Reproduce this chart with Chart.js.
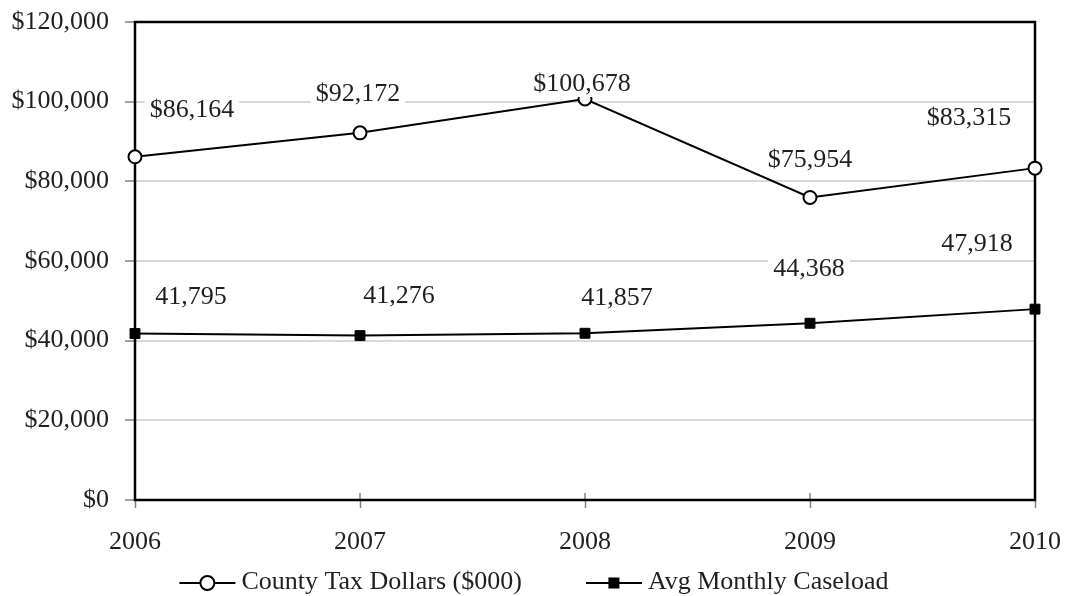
<!DOCTYPE html>
<html>
<head>
<meta charset="utf-8">
<script src="https://cdn.jsdelivr.net/npm/chart.js@4/dist/chart.umd.min.js"></script>
<style>
  body { margin: 0; background: #fff; }
  canvas { display: block; }
</style>
</head>
<body>
<canvas id="linechart" width="1068" height="596"></canvas>
<script>
const years = ['2006', '2007', '2008', '2009', '2010'];
const countyTax = [86164, 92172, 100678, 75954, 83315];
const caseload = [41795, 41276, 41857, 44368, 47918];
const taxLabels = ['$86,164', '$92,172', '$100,678', '$75,954', '$83,315'];
const caseloadLabels = ['41,795', '41,276', '41,857', '44,368', '47,918'];
const seriesNames = ['County Tax Dollars ($000)', 'Avg Monthly Caseload'];
const yMin = 0;
const yMax = 120000;
const yStep = 20000;

const FONT = '"Liberation Serif", "Times New Roman", serif';
const TEXT = '#1f1f1f';

// label offsets from each point, roughly where excel put them
const labelOffsets = [
    [[57, -48], [-2, -40], [-3, -16], [0, -38], [-66, -51]],
    [[56, -37], [39, -40], [32, -36], [-1, -55], [-58, -66]]
];

const frame = {
    id: 'frame',
    beforeDatasetsDraw(chart) {
        const { ctx, chartArea: a, scales } = chart;
        ctx.save();
        // small inside part of the x tick marks
        ctx.strokeStyle = '#808080';
        ctx.lineWidth = 1.5;
        years.forEach((y, i) => {
            const x = scales.x.getPixelForValue(i);
            ctx.beginPath();
            ctx.moveTo(x, a.bottom);
            ctx.lineTo(x, a.bottom - 7);
            ctx.stroke();
        });
        ctx.strokeStyle = '#000';
        ctx.lineWidth = 2.5;
        ctx.strokeRect(a.left, a.top, a.right - a.left, a.bottom - a.top);
        ctx.restore();
    }
};

const pointLabels = {
    id: 'pointLabels',
    afterDatasetsDraw(chart) {
        const { ctx } = chart;
        const texts = [taxLabels, caseloadLabels];
        ctx.save();
        ctx.font = '26px ' + FONT;
        ctx.textAlign = 'center';
        ctx.textBaseline = 'middle';
        chart.data.datasets.forEach((ds, d) => {
            const meta = chart.getDatasetMeta(d);
            meta.data.forEach((pt, i) => {
                const cx = pt.x + labelOffsets[d][i][0];
                const cy = pt.y + labelOffsets[d][i][1];
                const w = ctx.measureText(texts[d][i]).width + 10;
                ctx.fillStyle = '#fff';
                ctx.fillRect(cx - w / 2, cy - 14, w, 28);
                ctx.fillStyle = TEXT;
                ctx.fillText(texts[d][i], cx, cy + 1);
            });
        });
        ctx.restore();
    }
};

const bottomLegend = {
    id: 'bottomLegend',
    afterDraw(chart) {
        const { ctx } = chart;
        const y = 583;
        const lineLen = 56;
        ctx.save();
        ctx.font = '26px ' + FONT;
        ctx.textBaseline = 'middle';
        const w0 = ctx.measureText(seriesNames[0]).width;
        const w1 = ctx.measureText(seriesNames[1]).width;
        const total = lineLen + 6 + w0 + 64 + lineLen + 6 + w1;
        let x = chart.width / 2 - total / 2;

        // tax item
        ctx.strokeStyle = '#000';
        ctx.lineWidth = 2;
        ctx.beginPath();
        ctx.moveTo(x, y);
        ctx.lineTo(x + lineLen, y);
        ctx.stroke();
        ctx.beginPath();
        ctx.arc(x + lineLen / 2, y, 7, 0, Math.PI * 2);
        ctx.fillStyle = '#fff';
        ctx.fill();
        ctx.stroke();
        ctx.fillStyle = TEXT;
        ctx.fillText(seriesNames[0], x + lineLen + 6, y - 1);
        x += lineLen + 6 + w0 + 64;

        // caseload item
        ctx.beginPath();
        ctx.moveTo(x, y);
        ctx.lineTo(x + lineLen, y);
        ctx.stroke();
        ctx.fillStyle = '#000';
        ctx.fillRect(x + lineLen / 2 - 5.5, y - 5.5, 11, 11);
        ctx.fillStyle = TEXT;
        ctx.fillText(seriesNames[1], x + lineLen + 6, y - 1);
        ctx.restore();
    }
};

const ctx = document.getElementById('linechart').getContext('2d');
const chart = new Chart(ctx, {
    type: 'line',
    data: {
        labels: years,
        datasets: [{
            label: seriesNames[0],
            data: countyTax,
            borderColor: '#000',
            borderWidth: 2,
            pointStyle: 'circle',
            pointRadius: 6.5,
            pointBorderWidth: 2,
            pointBackgroundColor: '#fff',
            pointBorderColor: '#000',
            tension: 0,
        }, {
            label: seriesNames[1],
            data: caseload,
            borderColor: '#000',
            borderWidth: 2,
            pointStyle: 'rect',
            pointRadius: 7,
            pointBorderWidth: 1,
            pointBackgroundColor: '#000',
            pointBorderColor: '#000',
            tension: 0,
        }]
    },
    options: {
        responsive: false,
        animation: false,
        layout: { autoPadding: false, padding: { top: 22, right: 33, left: 0, bottom: 0 } },
        plugins: {
            legend: { display: false },
            tooltip: { enabled: false },
        },
        scales: {
            x: {
                type: 'category',
                offset: false,
                afterFit: (s) => {
                    s.height = 96;
                    s.paddingLeft = 0;
                    s.paddingRight = 0;
                },
                grid: {
                    drawOnChartArea: false,
                    tickLength: 8,
                    tickColor: '#808080',
                    tickWidth: 1.5,
                },
                border: { display: false },
                ticks: {
                    padding: 19,
                    color: TEXT,
                    font: { family: FONT, size: 26 },
                    maxRotation: 0,
                },
            },
            y: {
                min: yMin,
                max: yMax,
                afterFit: (s) => {
                    s.width = 135;
                    s.paddingTop = 0;
                    s.paddingBottom = 0;
                },
                grid: {
                    color: '#d9d9d9',
                    lineWidth: 2,
                    tickLength: 10,
                    tickColor: '#808080',
                    tickWidth: 1.5,
                },
                border: { display: false },
                ticks: {
                    stepSize: yStep,
                    padding: 16,
                    color: TEXT,
                    font: { family: FONT, size: 26 },
                    callback: (v) => '$' + v.toLocaleString('en-US'),
                },
            },
        },
    },
    plugins: [frame, pointLabels, bottomLegend],
});
</script>
</body>
</html>
